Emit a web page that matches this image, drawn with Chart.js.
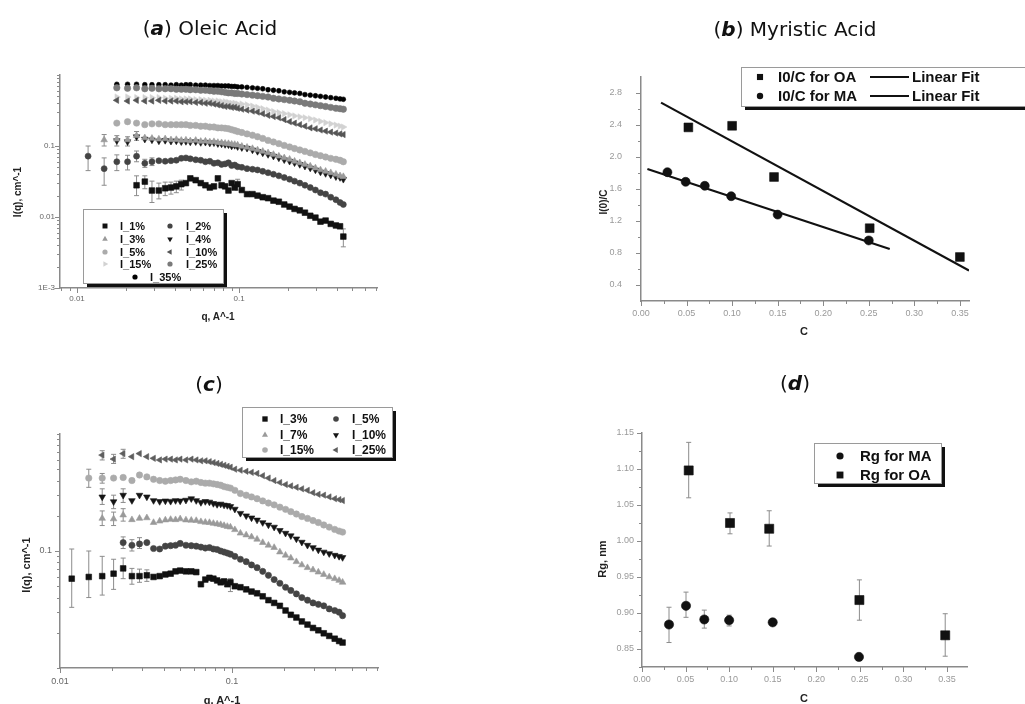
<!DOCTYPE html>
<html><head><meta charset="utf-8">
<script src="https://cdn.jsdelivr.net/npm/chart.js@4.4.1/dist/chart.umd.min.js"></script>
<style>
html,body{margin:0;padding:0;background:#fff;}
body{width:1025px;height:704px;position:relative;overflow:hidden;}
canvas{position:absolute;}
.ttl{position:absolute;font-family:"DejaVu Sans",sans-serif;font-size:20px;color:#111;transform:translateX(-50%);white-space:nowrap;line-height:24px;}
.ax{position:absolute;font-family:"Liberation Sans",Arial,sans-serif;font-weight:bold;font-size:10px;color:#222;white-space:nowrap;transform:translate(-50%,-50%);}
.ax.rot{transform:translate(-50%,-50%) rotate(-90deg);}
</style></head><body>
<canvas id="ca" width="512" height="352" style="left:0;top:0"></canvas>
<canvas id="cb" width="513" height="352" style="left:512px;top:0"></canvas>
<canvas id="cc" width="512" height="352" style="left:0;top:352px"></canvas>
<canvas id="cd" width="513" height="352" style="left:512px;top:352px"></canvas>

<div class="ttl" style="left:210px;top:16px">(<b><i>a</i></b>) Oleic Acid</div>
<div class="ttl" style="left:795px;top:17px">(<b><i>b</i></b>) Myristic Acid</div>
<div class="ttl" style="left:209px;top:372px">(<b><i>c</i></b>)</div>
<div class="ttl" style="left:795px;top:371px">(<b><i>d</i></b>)</div>

<div class="ax rot" style="left:17px;top:192px">I(q), cm^-1</div>
<div class="ax" style="left:218px;top:316px">q, A^-1</div>
<div class="ax rot" style="left:603px;top:202px">I(0)/C</div>
<div class="ax" style="left:804px;top:331px;font-size:11px">C</div>
<div class="ax rot" style="left:26px;top:565px;font-size:11px">I(q), cm^-1</div>
<div class="ax" style="left:222px;top:700px;font-size:11px">q, A^-1</div>
<div class="ax rot" style="left:602px;top:559px;font-size:11px">Rg, nm</div>
<div class="ax" style="left:804px;top:698px;font-size:11px">C</div>

<script>
// ---------- shared q grid for panels (a) and (c) ----------
const Q = [0.0117,0.0147,0.0176,0.0205,0.0233,0.0262,0.029,0.032,0.035,0.038,
           0.041,0.044,0.047,0.050,0.054,0.058,0.062,0.066,0.070,0.074,
           0.078,0.082,0.086,0.090,0.094,0.098,0.104,0.112,0.121,0.130,
           0.140,0.151,0.163,0.176,0.190,0.205,0.220,0.237,0.255,0.275,
           0.296,0.318,0.342,0.368,0.396,0.420,0.440];

// ---------- (a) Oleic acid ----------
const aI1 = [null,null,null,null,0.028,0.0315,0.0236,0.0236,0.0254,0.026,
  0.027,0.029,0.030,0.035,0.033,0.030,0.028,0.026,0.027,0.035,
  0.028,0.027,0.0236,0.030,0.026,0.029,0.024,0.021,0.021,0.020,
  0.019,0.0184,0.017,0.0164,0.015,0.014,0.013,0.0124,0.0115,0.0104,
  0.0098,0.0086,0.0089,0.0080,0.0076,0.0074,0.0053];
const aI2 = [0.072,0.048,0.060,0.060,0.072,0.057,0.060,0.062,0.061,0.062,
  0.063,0.067,0.068,0.066,0.064,0.063,0.060,0.061,0.057,0.058,
  0.055,0.056,0.058,0.053,0.054,0.051,0.050,0.048,0.047,0.046,
  0.044,0.042,0.040,0.038,0.036,0.034,0.032,0.030,0.028,0.026,
  0.024,0.022,0.021,0.019,0.0175,0.016,0.015];
const aI3 = [null,0.122,0.125,0.122,0.14,0.13,0.128,0.125,0.126,0.122,
  0.123,0.12,0.121,0.118,0.12,0.116,0.117,0.114,0.115,0.112,
  0.111,0.109,0.108,0.106,0.105,0.103,0.099,0.096,0.092,0.088,
  0.084,0.080,0.076,0.072,0.068,0.065,0.061,0.058,0.055,0.052,
  0.049,0.046,0.044,0.042,0.040,0.038,0.037];
const aI4 = [null,null,0.119,0.115,0.135,0.125,0.122,0.118,0.12,0.117,
  0.118,0.115,0.116,0.114,0.115,0.112,0.113,0.11,0.111,0.108,
  0.107,0.105,0.104,0.10,0.102,0.098,0.095,0.093,0.088,0.084,
  0.080,0.076,0.072,0.068,0.064,0.061,0.058,0.055,0.052,0.049,
  0.046,0.043,0.041,0.039,0.037,0.036,0.034];
const aI5 = [null,null,0.21,0.22,0.21,0.20,0.205,0.205,0.20,0.20,
  0.20,0.20,0.20,0.195,0.195,0.19,0.19,0.185,0.185,0.18,
  0.18,0.178,0.175,0.17,0.165,0.16,0.155,0.148,0.142,0.135,
  0.128,0.12,0.114,0.108,0.102,0.097,0.092,0.088,0.084,0.080,
  0.076,0.073,0.070,0.067,0.065,0.063,0.06];
const aI10 = [null,null,0.44,0.43,0.44,0.43,0.43,0.44,0.43,0.43,
  0.43,0.42,0.42,0.42,0.41,0.41,0.40,0.40,0.39,0.38,
  0.37,0.36,0.36,0.35,0.35,0.34,0.33,0.32,0.31,0.30,
  0.285,0.27,0.26,0.25,0.235,0.22,0.21,0.20,0.19,0.18,
  0.175,0.168,0.162,0.157,0.152,0.148,0.145];
const aI15 = [null,null,0.49,0.49,0.48,0.48,0.48,0.48,0.47,0.47,
  0.47,0.46,0.46,0.46,0.45,0.45,0.44,0.44,0.43,0.43,
  0.42,0.42,0.41,0.40,0.40,0.39,0.39,0.38,0.365,0.35,
  0.335,0.32,0.305,0.295,0.285,0.275,0.265,0.257,0.25,0.242,
  0.232,0.222,0.213,0.205,0.197,0.19,0.185];
const aI25 = [null,null,0.66,0.65,0.66,0.64,0.65,0.64,0.64,0.64,
  0.63,0.63,0.63,0.62,0.62,0.61,0.61,0.60,0.59,0.59,
  0.58,0.57,0.56,0.56,0.55,0.55,0.54,0.53,0.52,0.51,
  0.50,0.49,0.47,0.46,0.45,0.44,0.43,0.42,0.40,0.39,
  0.38,0.37,0.36,0.35,0.34,0.335,0.33];
const aI35 = [null,null,0.74,0.74,0.74,0.73,0.73,0.73,0.73,0.72,
  0.73,0.72,0.73,0.73,0.72,0.72,0.72,0.71,0.71,0.71,
  0.70,0.70,0.70,0.69,0.69,0.68,0.68,0.67,0.66,0.65,
  0.64,0.62,0.61,0.60,0.58,0.57,0.56,0.55,0.53,0.52,
  0.51,0.50,0.49,0.48,0.47,0.46,0.455];
// error bars [q, low, high]
const aErr1 = [[0.0233,0.020,0.038],[0.0262,0.025,0.038],[0.029,0.016,0.032],[0.032,0.018,0.030],
  [0.035,0.020,0.031],[0.038,0.021,0.031],[0.041,0.022,0.032],[0.044,0.024,0.033],[0.098,0.024,0.034],[0.44,0.0038,0.0068]];
const aErr2 = [[0.0117,0.045,0.10],[0.0147,0.028,0.068],[0.0176,0.045,0.075],[0.0205,0.046,0.074],
  [0.0233,0.060,0.085],[0.0262,0.050,0.065],[0.029,0.053,0.068]];
const aErr3 = [[0.0147,0.10,0.145],[0.0176,0.10,0.14],[0.0205,0.10,0.135],[0.0233,0.12,0.16]];
const aXTicks = [0.01,0.1], aXTickLabels = ['0.01','0.1'];
const aYTicks = [0.001,0.01,0.1], aYTickLabels = ['1E-3','0.01','0.1'];

// ---------- (b) I(0)/C ----------
const bC_OA = [0.052,0.100,0.146,0.251,0.350];
const bI_OA = [2.37,2.39,1.75,1.11,0.75];
const bC_MA = [0.029,0.049,0.070,0.099,0.150,0.250];
const bI_MA = [1.81,1.69,1.64,1.51,1.28,0.957];
const bFitOA_C = [0.022,0.360], bFitOA_I = [2.68,0.58];
const bFitMA_C = [0.007,0.273], bFitMA_I = [1.85,0.85];
const bXTicks = [0,0.05,0.10,0.15,0.20,0.25,0.30,0.35];
const bXTickLabels = ['0.00','0.05','0.10','0.15','0.20','0.25','0.30','0.35'];
const bYTicks = [0.4,0.8,1.2,1.6,2.0,2.4,2.8];
const bYTickLabels = ['0.4','0.8','1.2','1.6','2.0','2.4','2.8'];

// ---------- (c) ----------
const cI3 = [0.058,0.060,0.061,0.064,0.071,0.061,0.061,0.062,0.060,0.061,
  0.063,0.064,0.067,0.068,0.067,0.067,0.066,0.052,0.057,0.059,
  0.058,0.056,0.054,0.055,0.052,0.054,0.050,0.049,0.047,0.045,
  0.0435,0.041,0.038,0.036,0.034,0.031,0.0285,0.027,0.025,0.0235,
  0.022,0.021,0.0198,0.0188,0.0178,0.017,0.0165];
const cI5 = [null,null,null,null,0.118,0.112,0.115,0.118,0.105,0.104,
  0.110,0.111,0.112,0.116,0.112,0.111,0.110,0.108,0.106,0.107,
  0.104,0.103,0.100,0.098,0.096,0.094,0.090,0.085,0.081,0.076,
  0.072,0.067,0.062,0.057,0.053,0.049,0.046,0.043,0.040,0.038,
  0.036,0.035,0.034,0.032,0.031,0.030,0.028];
const cI7 = [null,null,0.19,0.188,0.203,0.185,0.19,0.192,0.175,0.18,
  0.184,0.186,0.185,0.188,0.184,0.183,0.182,0.178,0.176,0.175,
  0.172,0.17,0.168,0.165,0.162,0.16,0.152,0.142,0.137,0.132,
  0.126,0.118,0.112,0.107,0.098,0.092,0.087,0.081,0.076,0.072,
  0.069,0.066,0.063,0.060,0.058,0.056,0.054];
const cI10 = [null,null,0.29,0.264,0.30,0.27,0.30,0.29,0.27,0.265,
  0.268,0.266,0.27,0.268,0.272,0.28,0.27,0.26,0.265,0.262,
  0.255,0.25,0.252,0.247,0.245,0.24,0.228,0.21,0.20,0.192,
  0.184,0.175,0.167,0.16,0.15,0.142,0.135,0.127,0.119,0.112,
  0.107,0.102,0.098,0.095,0.092,0.09,0.088];
const cI15 = [null,0.42,0.42,0.42,0.425,0.40,0.446,0.43,0.41,0.40,
  0.395,0.40,0.405,0.41,0.40,0.39,0.395,0.385,0.38,0.38,
  0.375,0.37,0.365,0.355,0.35,0.345,0.33,0.31,0.30,0.29,
  0.28,0.268,0.257,0.248,0.237,0.227,0.217,0.207,0.197,0.19,
  0.182,0.175,0.167,0.16,0.153,0.148,0.145];
const cI25 = [null,null,0.66,0.61,0.68,0.64,0.68,0.64,0.62,0.60,
  0.61,0.61,0.60,0.61,0.60,0.61,0.60,0.59,0.59,0.58,
  0.57,0.56,0.55,0.54,0.53,0.52,0.50,0.49,0.48,0.47,
  0.46,0.44,0.42,0.40,0.385,0.37,0.36,0.35,0.34,0.33,
  0.315,0.305,0.30,0.29,0.28,0.275,0.27];
const cErr3 = [[0.0117,0.033,0.104],[0.0147,0.040,0.100],[0.0176,0.042,0.090],[0.0205,0.047,0.085],
  [0.0233,0.058,0.087],[0.0262,0.052,0.071],[0.029,0.054,0.070],[0.032,0.055,0.069],[0.098,0.045,0.058]];
const cErr5 = [[0.0233,0.105,0.132],[0.0262,0.100,0.125],[0.029,0.105,0.130]];
const cErr7 = [[0.0176,0.165,0.22],[0.0205,0.165,0.215],[0.0233,0.18,0.23]];
const cErr10 = [[0.0176,0.25,0.34],[0.0205,0.23,0.30],[0.0233,0.26,0.34]];
const cErr15 = [[0.0147,0.35,0.50],[0.0176,0.38,0.46]];
const cErr25 = [[0.0176,0.60,0.72],[0.0205,0.56,0.67],[0.0233,0.62,0.74]];
const cXTicks = [0.01,0.1], cXTickLabels = ['0.01','0.1'];
const cYTicks = [0.1], cYTickLabels = ['0.1'];

// ---------- (d) Rg ----------
const dC_MA = [0.031,0.0505,0.0715,0.100,0.150,0.249];
const dRg_MA = [0.884,0.910,0.891,0.890,0.887,0.839];
const dLo_MA = [0.859,0.894,0.879,0.882,0.883,0.836];
const dHi_MA = [0.908,0.929,0.904,0.897,0.891,0.842];
const dC_OA = [0.0536,0.101,0.146,0.2495,0.348];
const dRg_OA = [1.098,1.025,1.017,0.918,0.869];
const dLo_OA = [1.060,1.010,0.993,0.890,0.840];
const dHi_OA = [1.137,1.039,1.042,0.946,0.899];
const dXTicks = bXTicks, dXTickLabels = bXTickLabels;
const dYTicks = [0.85,0.90,0.95,1.00,1.05,1.10,1.15];
const dYTickLabels = ['0.85','0.90','0.95','1.00','1.05','1.10','1.15'];

// ---------- helpers ----------
function seriesQ(ys){ const out=[]; ys.forEach((y,i)=>{ if(y!=null) out.push({x:Q[i],y:y}); }); return out; }
function pairs(xs,ys){ return xs.map((x,i)=>({x:x,y:ys[i]})); }
function scat(label,data,color,style,r,rot,err){
  return {type:'scatter',label:label,data:data,pointStyle:style,pointRadius:r,pointRotation:rot||0,
    pointBackgroundColor:color,pointBorderColor:color,pointBorderWidth:0.6,backgroundColor:color,borderColor:color,
    showLine:false,errorBars:err||null};
}
function logMinor(min,max){
  const out=[]; for(let k=-4;k<=1;k++){ for(let m=1;m<=9;m++){ const v=+(m*Math.pow(10,k)).toPrecision(6); if(v>=min*0.999 && v<=max*1.001) out.push(v);} } return out;
}
function linMinor(majors,step,min,max){
  const out=[]; const s=step/2; for(let v=majors[0]-s; v<=max+1e-9; v+=s){ if(v>=min-1e-9) out.push(+v.toFixed(5)); } return out;
}
function buildTicks(all,majors,labels){
  return all.map(v=>{ const i=majors.findIndex(m=> (m===0 ? Math.abs(v)<1e-9 : Math.abs(m-v)/Math.abs(m)<1e-6)); return {v:v,l:i>=0?labels[i]:''}; });
}
function axis(o){
  return {
    type:o.type, position:o.pos, min:o.min, max:o.max,
    grid:{display:false,drawTicks:false,tickLength:0},
    border:{display:true,color:'#8a8a8a',width:1.5},
    afterBuildTicks:s=>{ s.ticks=o.ticks.map(t=>({value:t.v})); },
    afterFit:s=>{ if(o.pos==='left') s.width=o.size; else s.height=o.size; },
    ticks:{autoSkip:false,maxRotation:0,minRotation:0,padding:o.pad,color:o.tc||'#777',
      font:{family:'"Liberation Sans", Arial, sans-serif',size:o.fs||8},
      callback:(v,i)=> (o.ticks[i]?o.ticks[i].l:'')}
  };
}
function drawMarker(ctx,style,x,y,r,rot){
  ctx.save(); ctx.translate(x,y); ctx.rotate((rot||0)*Math.PI/180); ctx.beginPath();
  if(style==='rect'){ const s=r*Math.SQRT1_2; ctx.rect(-s,-s,2*s,2*s); }
  else if(style==='triangle'){ ctx.moveTo(0,-r); ctx.lineTo(r*0.866,r*0.5); ctx.lineTo(-r*0.866,r*0.5); ctx.closePath(); }
  else { ctx.arc(0,0,r,0,Math.PI*2); }
  ctx.fill(); ctx.restore();
}
const tickMarks = {id:'tickMarks', afterDraw(chart){
  const ctx=chart.ctx; ctx.save(); ctx.strokeStyle='#8a8a8a'; ctx.lineWidth=1;
  ['x','y'].forEach(id=>{ const s=chart.scales[id];
    s.ticks.forEach(t=>{ const p=Math.round(s.getPixelForValue(t.value))+0.5; const len=t.label?5:3; ctx.beginPath();
      if(id==='x'){ ctx.moveTo(p,s.top); ctx.lineTo(p,s.top+len); } else { ctx.moveTo(s.right,p); ctx.lineTo(s.right-len,p); }
      ctx.stroke(); }); });
  ctx.restore(); }};
const errBars = {id:'errBars', beforeDatasetsDraw(chart){
  const ctx=chart.ctx, xs=chart.scales.x, ys=chart.scales.y; ctx.save(); ctx.lineWidth=1;
  chart.data.datasets.forEach(ds=>{ if(!ds.errorBars) return; ctx.strokeStyle=ds.errorColor||'#8c8c8c'; const cap=ds.errorCap||2.5;
    ds.errorBars.forEach(e=>{ const x=xs.getPixelForValue(e[0]), y1=ys.getPixelForValue(e[1]), y2=ys.getPixelForValue(e[2]);
      ctx.beginPath(); ctx.moveTo(x,y1); ctx.lineTo(x,y2); ctx.moveTo(x-cap,y1); ctx.lineTo(x+cap,y1); ctx.moveTo(x-cap,y2); ctx.lineTo(x+cap,y2); ctx.stroke(); }); });
  ctx.restore(); }};
function boxLegend(o){ return {id:'boxLegend', afterDraw(chart){
  const ctx=chart.ctx; ctx.save();
  ctx.fillStyle='#111'; ctx.fillRect(o.x+o.sh,o.y+o.sh,o.w,o.h);
  ctx.fillStyle='#fff'; ctx.fillRect(o.x,o.y,o.w,o.h);
  ctx.strokeStyle='#9a9a9a'; ctx.lineWidth=1; ctx.strokeRect(o.x+0.5,o.y+0.5,o.w,o.h);
  ctx.font=o.font; ctx.textBaseline='middle'; ctx.textAlign='left';
  o.items.forEach(it=>{ const ds=chart.data.datasets[it[0]], mx=it[1], tx=it[2], y=it[3];
    if(ds.showLine){ ctx.strokeStyle=ds.borderColor; ctx.lineWidth=2; ctx.beginPath(); ctx.moveTo(mx,y); ctx.lineTo(mx+o.lineLen,y); ctx.stroke(); }
    else { ctx.fillStyle=ds.pointBackgroundColor; drawMarker(ctx,ds.pointStyle,mx,y,o.r*(ds.pointStyle==='rect'?1.35:(ds.pointStyle==='triangle'?1.25:1)),ds.pointRotation); }
    ctx.fillStyle='#111'; ctx.fillText(ds.label,tx,y+0.5); });
  ctx.restore(); }}; }
const base = (pad)=>({responsive:false,animation:false,devicePixelRatio:1,events:[],
  layout:{padding:pad}, plugins:{legend:{display:false},tooltip:{enabled:false}}});

// ---------- chart (a) ----------
(function(){
  const xmin=0.00785,xmax=0.71,ymin=0.001,ymax=1;
  const xt=buildTicks(logMinor(xmin,xmax),aXTicks,aXTickLabels);
  const yt=buildTicks(logMinor(ymin,ymax),aYTicks,aYTickLabels);
  const ds=[
    scat('I_1%',seriesQ(aI1),'#111','rect',4,0,aErr1),
    scat('I_2%',seriesQ(aI2),'#444','circle',3,0,aErr2),
    scat('I_3%',seriesQ(aI3),'#9a9a9a','triangle',3.8,0,aErr3),
    scat('I_4%',seriesQ(aI4),'#151515','triangle',3.8,180),
    scat('I_5%',seriesQ(aI5),'#ababab','circle',3.2,0),
    scat('I_10%',seriesQ(aI10),'#555','triangle',3.6,270),
    scat('I_15%',seriesQ(aI15),'#d2d2d2','triangle',3.6,90),
    scat('I_25%',seriesQ(aI25),'#7a7a7a','circle',3.2,0),
    scat('I_35%',seriesQ(aI35),'#000','circle',2.4,0)
  ];
  const opt=base({left:0,top:75,right:135,bottom:0});
  opt.scales={x:axis({type:'logarithmic',pos:'bottom',min:xmin,max:xmax,ticks:xt,size:64,pad:6,tc:'#666'}),
              y:axis({type:'logarithmic',pos:'left',min:ymin,max:ymax,ticks:yt,size:60,pad:5,tc:'#666'})};
  new Chart(document.getElementById('ca'),{type:'scatter',data:{datasets:ds},options:opt,
    plugins:[errBars,tickMarks,boxLegend({x:83,y:209,w:140,h:74,sh:4,r:2.6,font:'bold 11px "Liberation Sans", Arial, sans-serif',
      items:[[0,105,120,226],[1,170,186,226],[2,105,120,239],[3,170,186,239],[4,105,120,252],[5,170,186,252],[6,105,120,264],[7,170,186,264],[8,135,150,277]]})]});
})();

// ---------- chart (b) ----------
(function(){
  const xmin=0,xmax=0.36,ymin=0.2,ymax=3.0;
  const xt=buildTicks(linMinor(bXTicks,0.05,xmin,xmax),bXTicks,bXTickLabels);
  const yt=buildTicks(linMinor(bYTicks,0.4,ymin+0.01,ymax-0.01),bYTicks,bYTickLabels);
  const ds=[
    scat('I0/C for OA',pairs(bC_OA,bI_OA),'#111','rect',6.2,0),
    scat('I0/C for MA',pairs(bC_MA,bI_MA),'#111','circle',4.5,0),
    {type:'scatter',label:'Linear Fit',data:pairs(bFitOA_C,bFitOA_I),showLine:true,borderColor:'#111',borderWidth:2.2,pointRadius:0},
    {type:'scatter',label:'Linear Fit',data:pairs(bFitMA_C,bFitMA_I),showLine:true,borderColor:'#111',borderWidth:2.2,pointRadius:0}
  ];
  const opt=base({left:0,top:77,right:56,bottom:0});
  opt.scales={x:axis({type:'linear',pos:'bottom',min:xmin,max:xmax,ticks:xt,size:51,pad:7,tc:'#999',fs:9}),
              y:axis({type:'linear',pos:'left',min:ymin,max:ymax,ticks:yt,size:129,pad:19,tc:'#999',fs:9})};
  new Chart(document.getElementById('cb'),{type:'scatter',data:{datasets:ds},options:opt,
    plugins:[tickMarks,boxLegend({x:229,y:67,w:320,h:39,sh:4,r:3.2,lineLen:39,font:'bold 15px "Liberation Sans", Arial, sans-serif',
      items:[[0,248,266,77],[2,358,400,77],[1,248,266,96],[3,358,400,96]]})]});
})();

// ---------- chart (c) ----------
(function(){
  const xmin=0.01,xmax=0.707,ymin=0.01,ymax=1;
  const xt=buildTicks(logMinor(xmin,xmax),cXTicks,cXTickLabels);
  const yt=buildTicks(logMinor(ymin,ymax),cYTicks,cYTickLabels);
  const ds=[
    scat('I_3%',seriesQ(cI3),'#111','rect',4,0,cErr3),
    scat('I_5%',seriesQ(cI5),'#444','circle',3.1,0,cErr5),
    scat('I_7%',seriesQ(cI7),'#9a9a9a','triangle',3.8,0,cErr7),
    scat('I_10%',seriesQ(cI10),'#151515','triangle',3.8,180,cErr10),
    scat('I_15%',seriesQ(cI15),'#ababab','circle',3.2,0,cErr15),
    scat('I_25%',seriesQ(cI25),'#5e5e5e','triangle',3.6,270,cErr25)
  ];
  const opt=base({left:0,top:82,right:134,bottom:0});
  opt.scales={x:axis({type:'logarithmic',pos:'bottom',min:xmin,max:xmax,ticks:xt,size:36,pad:8,tc:'#666',fs:9}),
              y:axis({type:'logarithmic',pos:'left',min:ymin,max:ymax,ticks:yt,size:60,pad:8,tc:'#666',fs:9})};
  new Chart(document.getElementById('cc'),{type:'scatter',data:{datasets:ds},options:opt,
    plugins:[errBars,tickMarks,boxLegend({x:242,y:55,w:150,h:50,sh:4,r:2.8,font:'bold 12px "Liberation Sans", Arial, sans-serif',
      items:[[0,265,280,67],[1,336,352,67],[2,265,280,83],[3,336,352,83],[4,265,280,98],[5,336,352,98]]})]});
})();

// ---------- chart (d) ----------
(function(){
  const xmin=0,xmax=0.373,ymin=0.825,ymax=1.15;
  const xt=buildTicks(linMinor(dXTicks,0.05,xmin,xmax),dXTicks,dXTickLabels);
  const yt=buildTicks(linMinor(dYTicks,0.05,ymin,ymax),dYTicks,dYTickLabels);
  const ds=[
    scat('Rg for MA',pairs(dC_MA,dRg_MA),'#111','circle',4.6,0,dC_MA.map((c,i)=>[c,dLo_MA[i],dHi_MA[i]])),
    scat('Rg for OA',pairs(dC_OA,dRg_OA),'#111','rect',6.4,0,dC_OA.map((c,i)=>[c,dLo_OA[i],dHi_OA[i]]))
  ];
  const opt=base({left:0,top:81,right:58,bottom:0});
  opt.scales={x:axis({type:'linear',pos:'bottom',min:xmin,max:xmax,ticks:xt,size:37,pad:7,tc:'#999',fs:9}),
              y:axis({type:'linear',pos:'left',min:ymin,max:ymax,ticks:yt,size:130,pad:8,tc:'#999',fs:9})};
  new Chart(document.getElementById('cd'),{type:'scatter',data:{datasets:ds},options:opt,
    plugins:[errBars,tickMarks,boxLegend({x:302,y:91,w:127,h:40,sh:4,r:3.6,font:'bold 15px "Liberation Sans", Arial, sans-serif',
      items:[[0,328,348,104],[1,328,348,123]]})]});
})();
</script>
</body></html>
